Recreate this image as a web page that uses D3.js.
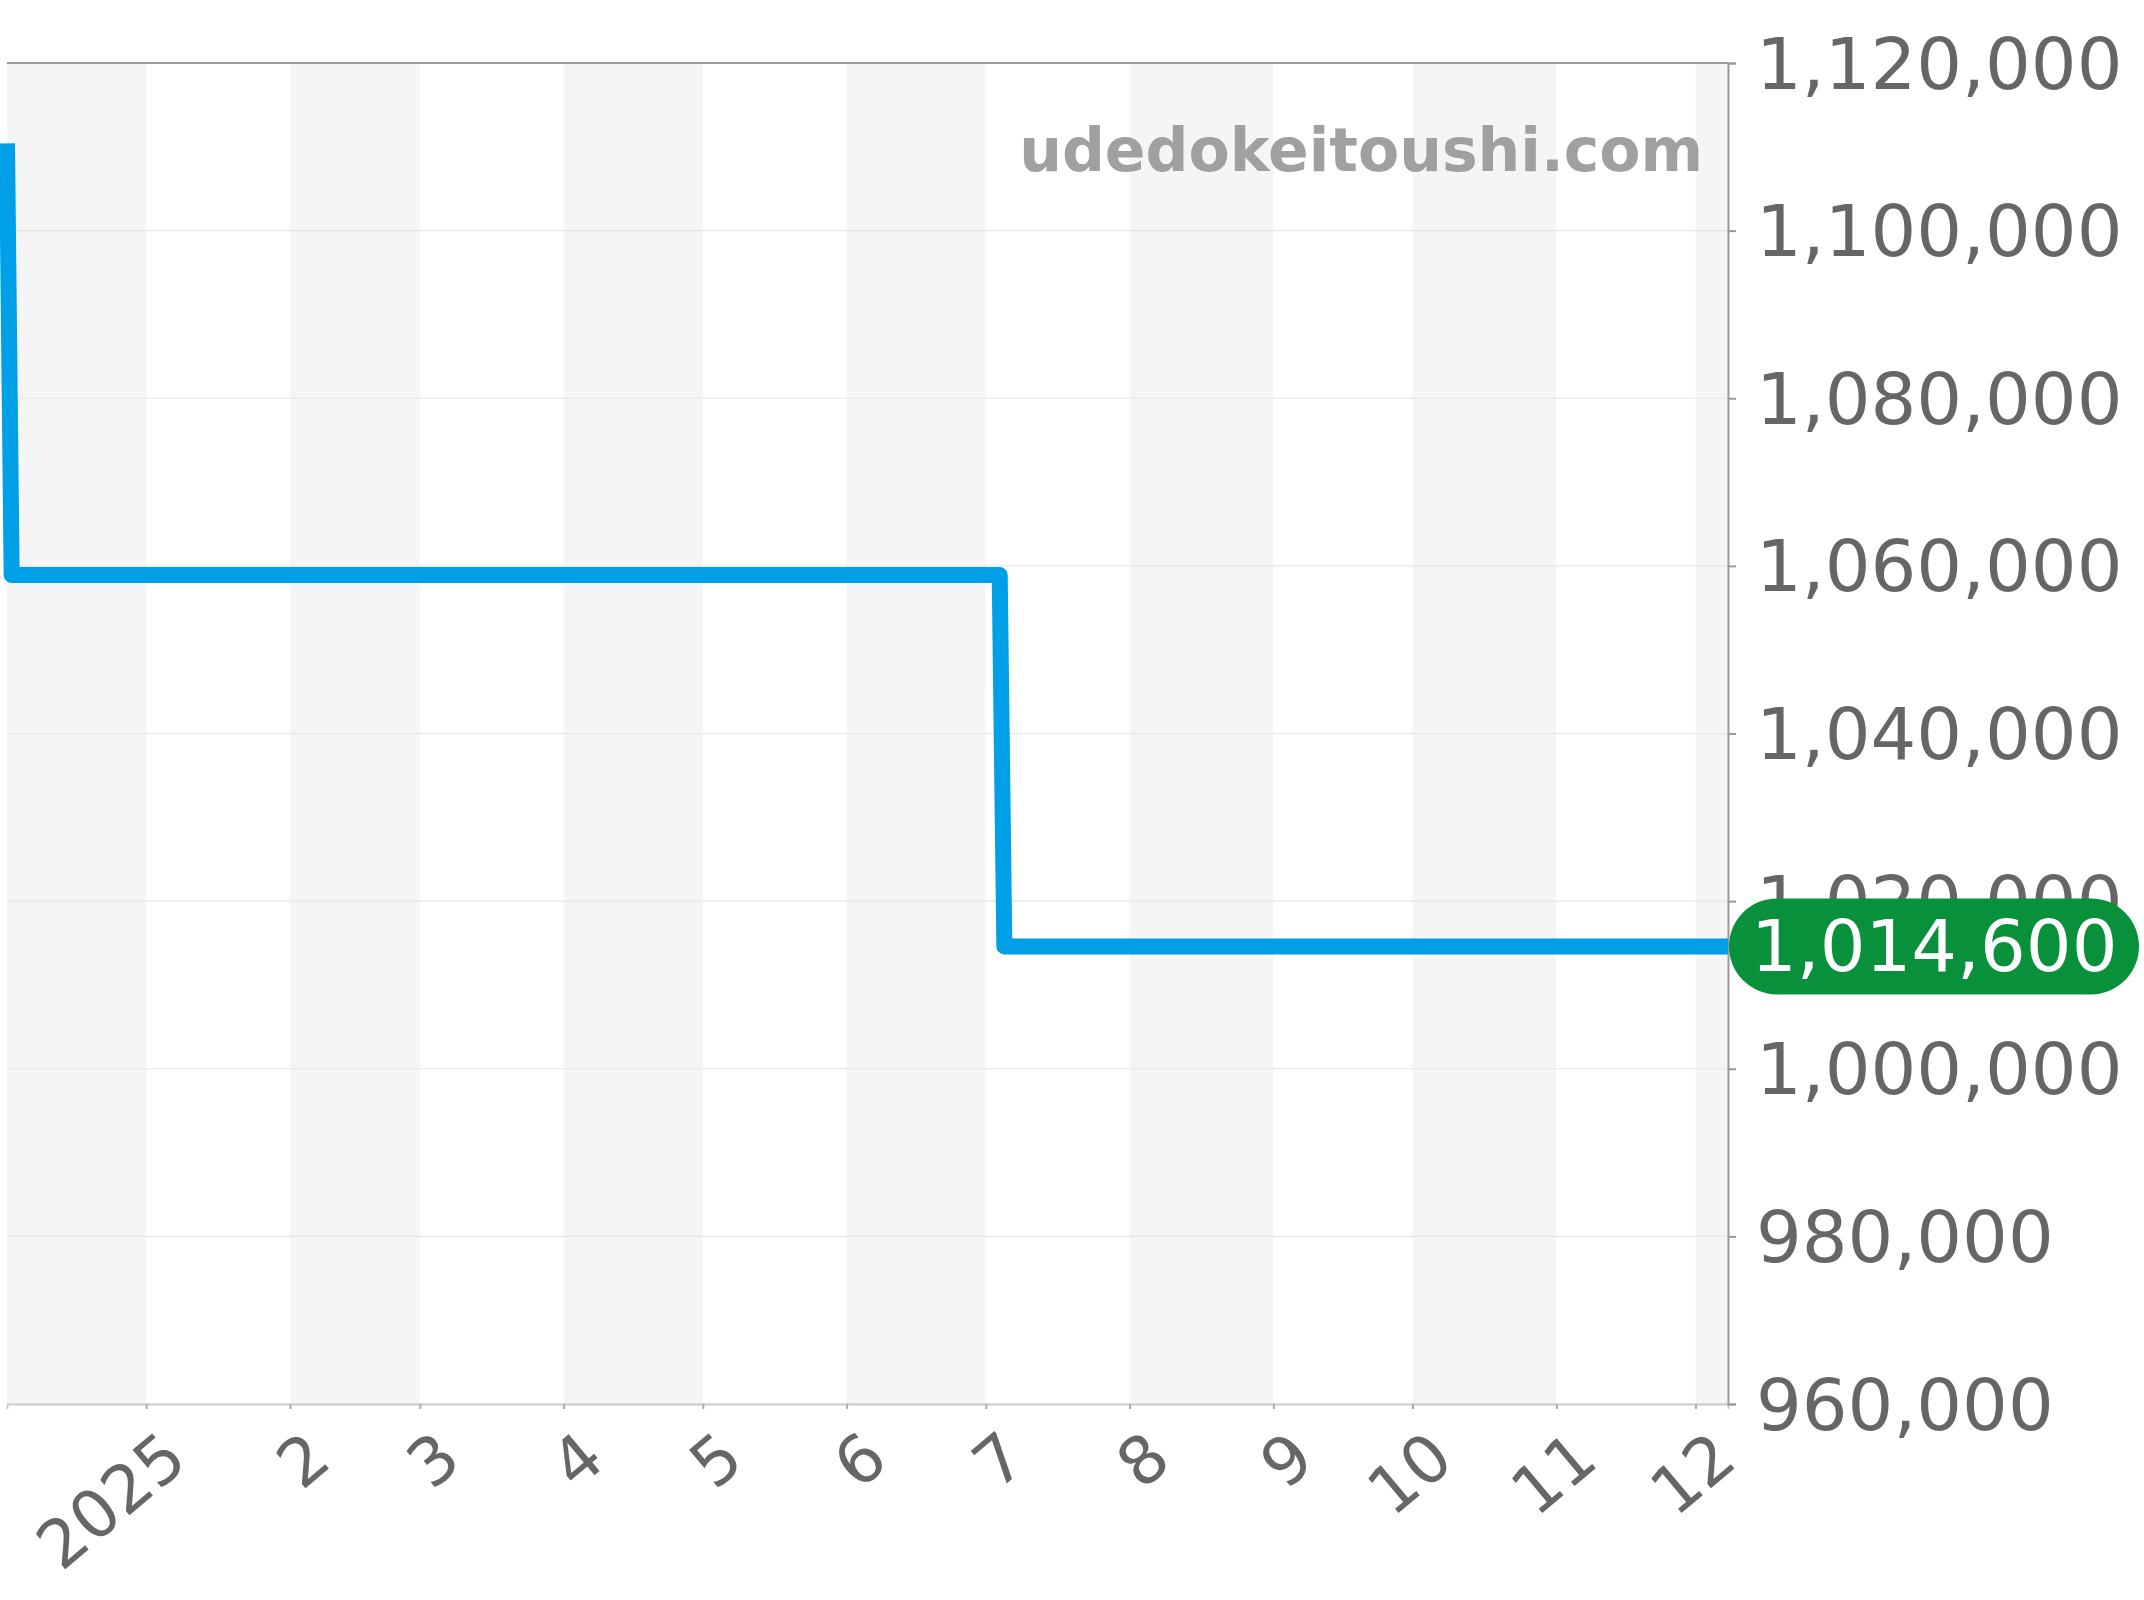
<!DOCTYPE html>
<html>
<head>
<meta charset="utf-8">
<script src="https://cdn.jsdelivr.net/npm/d3@7"></script>
<style>
  html, body { margin: 0; padding: 0; background: #fff; }
  svg { display: block; }
  svg text { font-family: "DejaVu Sans", sans-serif; }
</style>
</head>
<body>
<svg id="chart" width="2144" height="1600"></svg>
<script>
// ── Data ──────────────────────────────────────────────────
const priceDates = ['2024-12-02', '2024-12-03', '2025-07-04', '2025-07-05', '2025-12-08'];
const priceValues = [1110400, 1058900, 1058900, 1014600, 1014600];
const yTickValues = [960000, 980000, 1000000, 1020000, 1040000, 1060000, 1080000, 1100000, 1120000];
const yDomain = [960000, 1120000];
const latestValue = 1014600;
const watermark = 'udedokeitoushi.com';

// ── Layout ────────────────────────────────────────────────
const W = 2144, H = 1600;
const plot = { left: 7, right: 1728, top: 63, bottom: 1404 };

const parse = d3.timeParse('%Y-%m-%d');
const points = priceDates.map((d, i) => ({ date: parse(d), value: priceValues[i] }));

const svg = d3.select('#chart');

const x = d3.scaleTime()
  .domain(d3.extent(points, d => d.date))
  .range([plot.left, plot.right]);

const y = d3.scaleLinear()
  .domain(yDomain)
  .range([plot.bottom, plot.top]);

// ── Alternating month bands ───────────────────────────────
const [d0, d1] = x.domain();
const months = d3.timeMonth.range(d3.timeMonth.floor(d0), d1);
svg.append('g')
  .selectAll('rect')
  .data(months)
  .join('rect')
  .attr('x', d => Math.max(x(d), plot.left))
  .attr('y', plot.top)
  .attr('width', d => Math.min(x(d3.timeMonth.offset(d, 1)), plot.right) - Math.max(x(d), plot.left))
  .attr('height', plot.bottom - plot.top)
  .attr('fill', (d, i) => i % 2 === 0 ? '#f5f5f5' : '#ffffff');

// ── Horizontal grid ───────────────────────────────────────
svg.append('g')
  .selectAll('line')
  .data(yTickValues)
  .join('line')
  .attr('x1', plot.left).attr('x2', plot.right)
  .attr('y1', d => y(d)).attr('y2', d => y(d))
  .attr('stroke', '#e6e6e6')
  .attr('stroke-width', 1.2);

// top border
svg.append('line')
  .attr('x1', plot.left).attr('x2', plot.right)
  .attr('y1', plot.top).attr('y2', plot.top)
  .attr('stroke', '#999').attr('stroke-width', 2);

// ── Watermark ─────────────────────────────────────────────
svg.append('text')
  .attr('x', plot.right - 25)
  .attr('y', 171)
  .attr('text-anchor', 'end')
  .attr('font-size', 60)
  .attr('font-weight', 'bold')
  .attr('fill', '#a0a0a0')
  .text(watermark);

// ── X axis ────────────────────────────────────────────────
const monthTicks = d3.timeMonth.range(d3.timeMonth.ceil(d0), d1);
const xAxis = d3.axisBottom(x)
  .tickValues(monthTicks)
  .tickSize(5)
  .tickFormat(d => d.getMonth() === 0 ? d3.timeFormat('%Y')(d) : String(d.getMonth() + 1));

const gx = svg.append('g')
  .attr('transform', `translate(0,${plot.bottom})`)
  .call(xAxis)
  .attr('font-family', null);
gx.select('.domain').attr('stroke', '#ccc').attr('stroke-width', 2);
gx.selectAll('.tick line').attr('stroke', '#aaa').attr('stroke-width', 2);
gx.selectAll('.tick text')
  .attr('fill', '#666')
  .attr('font-size', 66)
  .attr('text-anchor', 'end')
  .attr('dominant-baseline', 'central')
  .attr('x', null).attr('y', null).attr('dy', null)
  .attr('transform', 'translate(29,43) rotate(-40)');

// ── Y axis (right) ────────────────────────────────────────
const yAxis = d3.axisRight(y)
  .tickValues(yTickValues)
  .tickSize(8)
  .tickPadding(20)
  .tickFormat(d3.format(','));

const gy = svg.append('g')
  .attr('transform', `translate(${plot.right},0)`)
  .call(yAxis)
  .attr('font-family', null);
gy.select('.domain').attr('stroke', '#999').attr('stroke-width', 2);
gy.selectAll('.tick line').attr('stroke', '#999').attr('stroke-width', 2);
gy.selectAll('.tick text')
  .attr('fill', '#666')
  .attr('font-size', 72)
  .attr('dy', null)
  .attr('dominant-baseline', 'central');

// ── Price line ────────────────────────────────────────────
const line = d3.line()
  .x(d => x(d.date))
  .y(d => y(d.value));

svg.append('path')
  .datum(points)
  .attr('d', line)
  .attr('fill', 'none')
  .attr('stroke', '#00a0e9')
  .attr('stroke-width', 16)
  .attr('stroke-linejoin', 'round')
  .attr('stroke-linecap', 'butt');

// ── Latest value badge ────────────────────────────────────
const badgeH = 96;
const badge = svg.append('g')
  .attr('transform', `translate(${plot.right + 1},${y(latestValue)})`);
badge.append('rect')
  .attr('x', 0).attr('y', -badgeH / 2)
  .attr('width', 410).attr('height', badgeH)
  .attr('rx', badgeH / 2)
  .attr('fill', '#08903a');
badge.append('text')
  .attr('x', 22)
  .attr('dominant-baseline', 'central')
  .attr('font-size', 72)
  .attr('fill', '#fff')
  .text(d3.format(',')(latestValue));
</script>
</body>
</html>
